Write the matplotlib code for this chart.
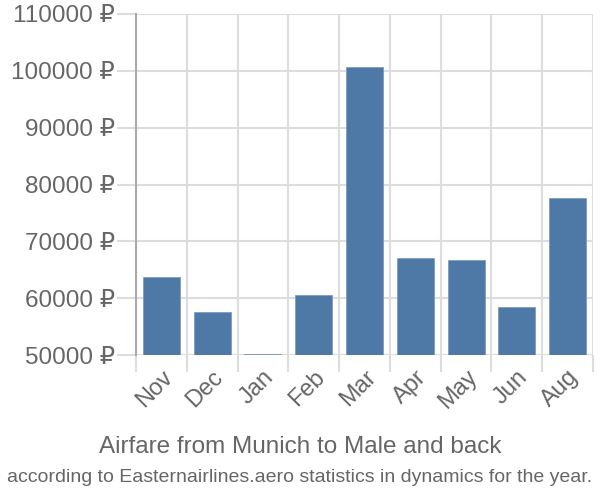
import matplotlib
matplotlib.use('Agg')
import matplotlib.pyplot as plt
import numpy as np

months = ['Nov', 'Dec', 'Jan', 'Feb', 'Mar', 'Apr', 'May', 'Jun', 'Aug']
prices = [63700, 57600, 50150, 60550, 100700, 67100, 66750, 58450, 77600]
yticks = [50000, 60000, 70000, 80000, 90000, 100000, 110000]

plt.rcParams['font.family'] = ['Liberation Sans', 'DejaVu Sans']
txt = '#666666'
grid = '#dddddd'

fig = plt.figure(figsize=(6, 5), dpi=100)
ax = fig.add_axes([0.2267, 0.29, 0.7616, 0.682])

x = np.arange(len(months))
ax.bar(x, prices, width=0.73, color='#4e78a6', edgecolor='#7d9cc0', linewidth=0.6, zorder=3)

ax.set_xlim(-0.5, len(months) - 0.5)
ax.set_ylim(50000, 110000)
ax.set_yticks(yticks)
ax.set_yticklabels([f'{v} ₽' for v in yticks], fontsize=17.5, color=txt)
ax.set_xticks(x)
ax.set_xticklabels(months, fontsize=17, color=txt, rotation=45,
                   ha='right', va='top', rotation_mode='anchor')
ax.set_xticks(np.arange(len(months) + 1) - 0.5, minor=True)

ax.tick_params(axis='y', length=14, width=1.5, color=grid, pad=1)
ax.tick_params(axis='x', which='major', length=0, pad=8)
ax.tick_params(axis='x', which='minor', length=12, width=1.5, color=grid)

ax.grid(axis='y', color=grid, linewidth=1.5, zorder=0)
ax.grid(axis='x', which='minor', color=grid, linewidth=1.5, zorder=0)
ax.set_axisbelow(True)

for s in ['top', 'right', 'bottom']:
    ax.spines[s].set_visible(False)
ax.spines['left'].set_color('#aaaaaa')
ax.spines['left'].set_linewidth(1.5)
ax.spines['left'].set_zorder(4)

fig.text(0.5, 0.106, 'Airfare from Munich to Male and back', ha='center', va='center',
         fontsize=17.5, color=txt)
fig.text(0.5, 0.046, 'according to Easternairlines.aero statistics in dynamics for the year.',
         ha='center', va='center', fontsize=14, color=txt)

fig.savefig('out.png', dpi=100)
